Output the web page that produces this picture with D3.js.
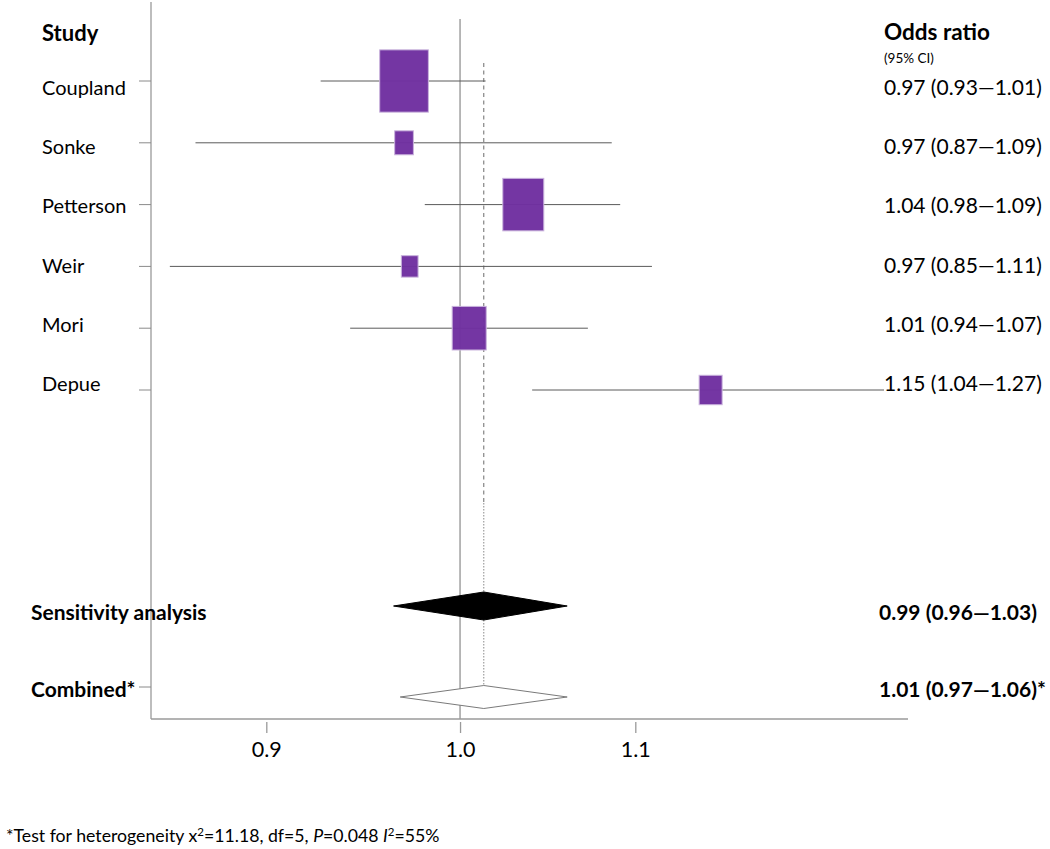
<!DOCTYPE html>
<html>
<head>
<meta charset="utf-8">
<script src="https://cdn.jsdelivr.net/npm/d3@7"></script>
<style>
  html, body { margin: 0; padding: 0; background: #fff; }
  svg { display: block; }
  text { font-family: Lato, "Open Sans", sans-serif; fill: #000; }
</style>
</head>
<body>
<svg id="chart" width="1050" height="849"></svg>
<script>
// ---------- data ----------
const studies   = ["Coupland", "Sonke", "Petterson", "Weir", "Mori", "Depue"];
const estimate  = [0.970, 0.970, 1.035, 0.973, 1.005, 1.146];
const lower     = [0.927, 0.866, 0.981, 0.854, 0.942, 1.040];
const upper     = [1.014, 1.086, 1.091, 1.110, 1.072, 1.271];
const weights   = [37.2, 5.5, 26.4, 4.4, 18.2, 8.3];
const orLabels  = ["0.97 (0.93\u20141.01)", "0.97 (0.87\u20141.09)", "1.04 (0.98\u20141.09)",
                   "0.97 (0.85\u20141.11)", "1.01 (0.94\u20141.07)", "1.15 (1.04\u20141.27)"];

const summaryNames  = ["Sensitivity analysis", "Combined*"];
const summaryEst    = [1.013, 1.013];
const summaryLower  = [0.9645, 0.968];
const summaryUpper  = [1.060, 1.060];
const summaryLabels = ["0.99 (0.96\u20141.03)", "1.01 (0.97\u20141.06)*"];

const tickValues = [0.9, 1.0, 1.1];
const tickLabels = ["0.9", "1.0", "1.1"];

// ---------- layout ----------
const svg = d3.select("#chart");
const axisLeftX = 151, axisBottomY = 719, axisRightX = 908, axisTopY = 2;

const x = d3.scaleLog().domain([0.9, 1.1]).range([266.3, 635.3]);
const rowY = d3.scaleLinear().domain([0, 1]).range([81, 142.8]);   // study rows (marks)
const textY = d3.scaleLinear().domain([0, 1]).range([95, 154.2]);  // study rows (text baselines)
const summaryRowY = [606, 697];
const summaryTextY = [620, 697];
const summaryHalfH = [14, 11.5];
const boxW = d3.scaleSqrt().domain([0, 100]).range([0, 79.8]);
const boxAspect = 1.28;

// axes lines
svg.append("line").attr("x1", axisLeftX).attr("x2", axisLeftX)
  .attr("y1", axisTopY).attr("y2", axisBottomY)
  .attr("stroke", "#9a9a9a").attr("stroke-width", 1.3);
svg.append("line").attr("x1", axisLeftX).attr("x2", axisRightX)
  .attr("y1", axisBottomY).attr("y2", axisBottomY)
  .attr("stroke", "#9a9a9a").attr("stroke-width", 1.3);

// left ticks at rows
const leftTickYs = studies.map((d, i) => rowY(i)).concat([summaryRowY[1] - 10]);
svg.selectAll("line.ltick").data(leftTickYs).enter().append("line")
  .attr("class", "ltick")
  .attr("x1", axisLeftX - 12).attr("x2", axisLeftX)
  .attr("y1", d => d).attr("y2", d => d)
  .attr("stroke", "#8a8a8a").attr("stroke-width", 1);

// bottom axis
const xAxis = d3.axisBottom(x).tickValues(tickValues)
  .tickFormat((d, i) => tickLabels[i]).tickSize(11).tickPadding(9);
const gx = svg.append("g").attr("transform", `translate(0,${axisBottomY + 3})`).call(xAxis);
gx.select(".domain").remove();
gx.selectAll(".tick line").attr("stroke", "#9a9a9a").attr("stroke-width", 1.3);
gx.selectAll(".tick text").attr("font-family", "'Liberation Sans', Arial, sans-serif")
  .attr("font-size", 21.5).attr("fill", "#111");

// reference line at 1.0
svg.append("line").attr("x1", x(1)).attr("x2", x(1))
  .attr("y1", 19).attr("y2", axisBottomY)
  .attr("stroke", "#9a9a9a").attr("stroke-width", 1.4);

// combined estimate line (dashed then dotted)
const cx = x(summaryEst[1]);
svg.append("line").attr("x1", cx).attr("x2", cx).attr("y1", 63).attr("y2", 503)
  .attr("stroke", "#6a6a6a").attr("stroke-width", 1).attr("stroke-dasharray", "4,3.5");
svg.append("line").attr("x1", cx).attr("x2", cx).attr("y1", 503)
  .attr("y2", summaryRowY[1] - summaryHalfH[1])
  .attr("stroke", "#8a8a8a").attr("stroke-width", 1).attr("stroke-dasharray", "1.5,1.5");

// CI lines
svg.selectAll("line.ci").data(studies).enter().append("line")
  .attr("class", "ci")
  .attr("x1", (d, i) => x(lower[i])).attr("x2", (d, i) => x(upper[i]))
  .attr("y1", (d, i) => rowY(i)).attr("y2", (d, i) => rowY(i))
  .attr("stroke", "#5a5a5a").attr("stroke-width", 1);

// boxes
svg.selectAll("rect.box").data(studies).enter().append("rect")
  .attr("class", "box")
  .attr("x", (d, i) => x(estimate[i]) - boxW(weights[i]) / 2)
  .attr("y", (d, i) => rowY(i) - boxW(weights[i]) * boxAspect / 2)
  .attr("width", (d, i) => boxW(weights[i]))
  .attr("height", (d, i) => boxW(weights[i]) * boxAspect)
  .attr("fill", "#7030a0").attr("fill-opacity", 0.97)
  .attr("stroke", "#c9b3dc").attr("stroke-width", 1);

// diamonds
summaryNames.forEach((n, i) => {
  const y = summaryRowY[i], h = summaryHalfH[i];
  const pts = [[x(summaryLower[i]), y], [x(summaryEst[i]), y - h],
               [x(summaryUpper[i]), y], [x(summaryEst[i]), y + h]];
  svg.append("path").attr("d", d3.line()(pts) + "Z")
    .attr("fill", i === 0 ? "#000" : "#fff")
    .attr("stroke", i === 0 ? "#000" : "#7a7a7a")
    .attr("stroke-width", 1);
});

// headers
svg.append("text").attr("x", 42).attr("y", 41).attr("font-weight", "bold")
  .attr("font-size", 22).text("Study");
svg.append("text").attr("x", 884).attr("y", 40).attr("font-weight", "bold")
  .attr("font-size", 22.5).text("Odds ratio");
svg.append("text").attr("x", 884).attr("y", 63).attr("font-size", 13.5).text("(95% CI)");

// study names
svg.selectAll("text.study").data(studies).enter().append("text")
  .attr("class", "study").attr("x", 42).attr("y", (d, i) => textY(i))
  .attr("font-size", 20).text(d => d);

// OR labels with white backing
const orG = svg.selectAll("g.or").data(orLabels).enter().append("g").attr("class", "or");
orG.append("rect").attr("fill", "#fff");
orG.append("text").attr("x", 884).attr("y", (d, i) => textY(i))
  .attr("font-size", 21).text(d => d);
orG.each(function () {
  const t = d3.select(this).select("text").node().getBBox();
  d3.select(this).select("rect").attr("x", t.x).attr("y", t.y + 4)
    .attr("width", t.width).attr("height", t.height - 6);
});

// summary labels
svg.selectAll("text.sumname").data(summaryNames).enter().append("text")
  .attr("class", "sumname").attr("x", 31).attr("y", (d, i) => summaryTextY[i])
  .attr("font-weight", "bold").attr("font-size", 21).text(d => d);
svg.selectAll("text.sumlab").data(summaryLabels).enter().append("text")
  .attr("class", "sumlab").attr("x", 879).attr("y", (d, i) => summaryTextY[i])
  .attr("font-weight", "bold").attr("font-size", 21).text(d => d);

// footnote
const fn = svg.append("text").attr("x", 6).attr("y", 842).attr("font-size", 17.7);
fn.append("tspan").text("*Test for heterogeneity x");
fn.append("tspan").attr("baseline-shift", "super").attr("font-size", 11.5).text("2");
fn.append("tspan").text("=11.18, df=5, ");
fn.append("tspan").attr("font-style", "italic").text("P");
fn.append("tspan").text("=0.048 ");
fn.append("tspan").attr("font-style", "italic").text("I");
fn.append("tspan").attr("baseline-shift", "super").attr("font-size", 11.5).text("2");
fn.append("tspan").text("=55%");
</script>
</body>
</html>
